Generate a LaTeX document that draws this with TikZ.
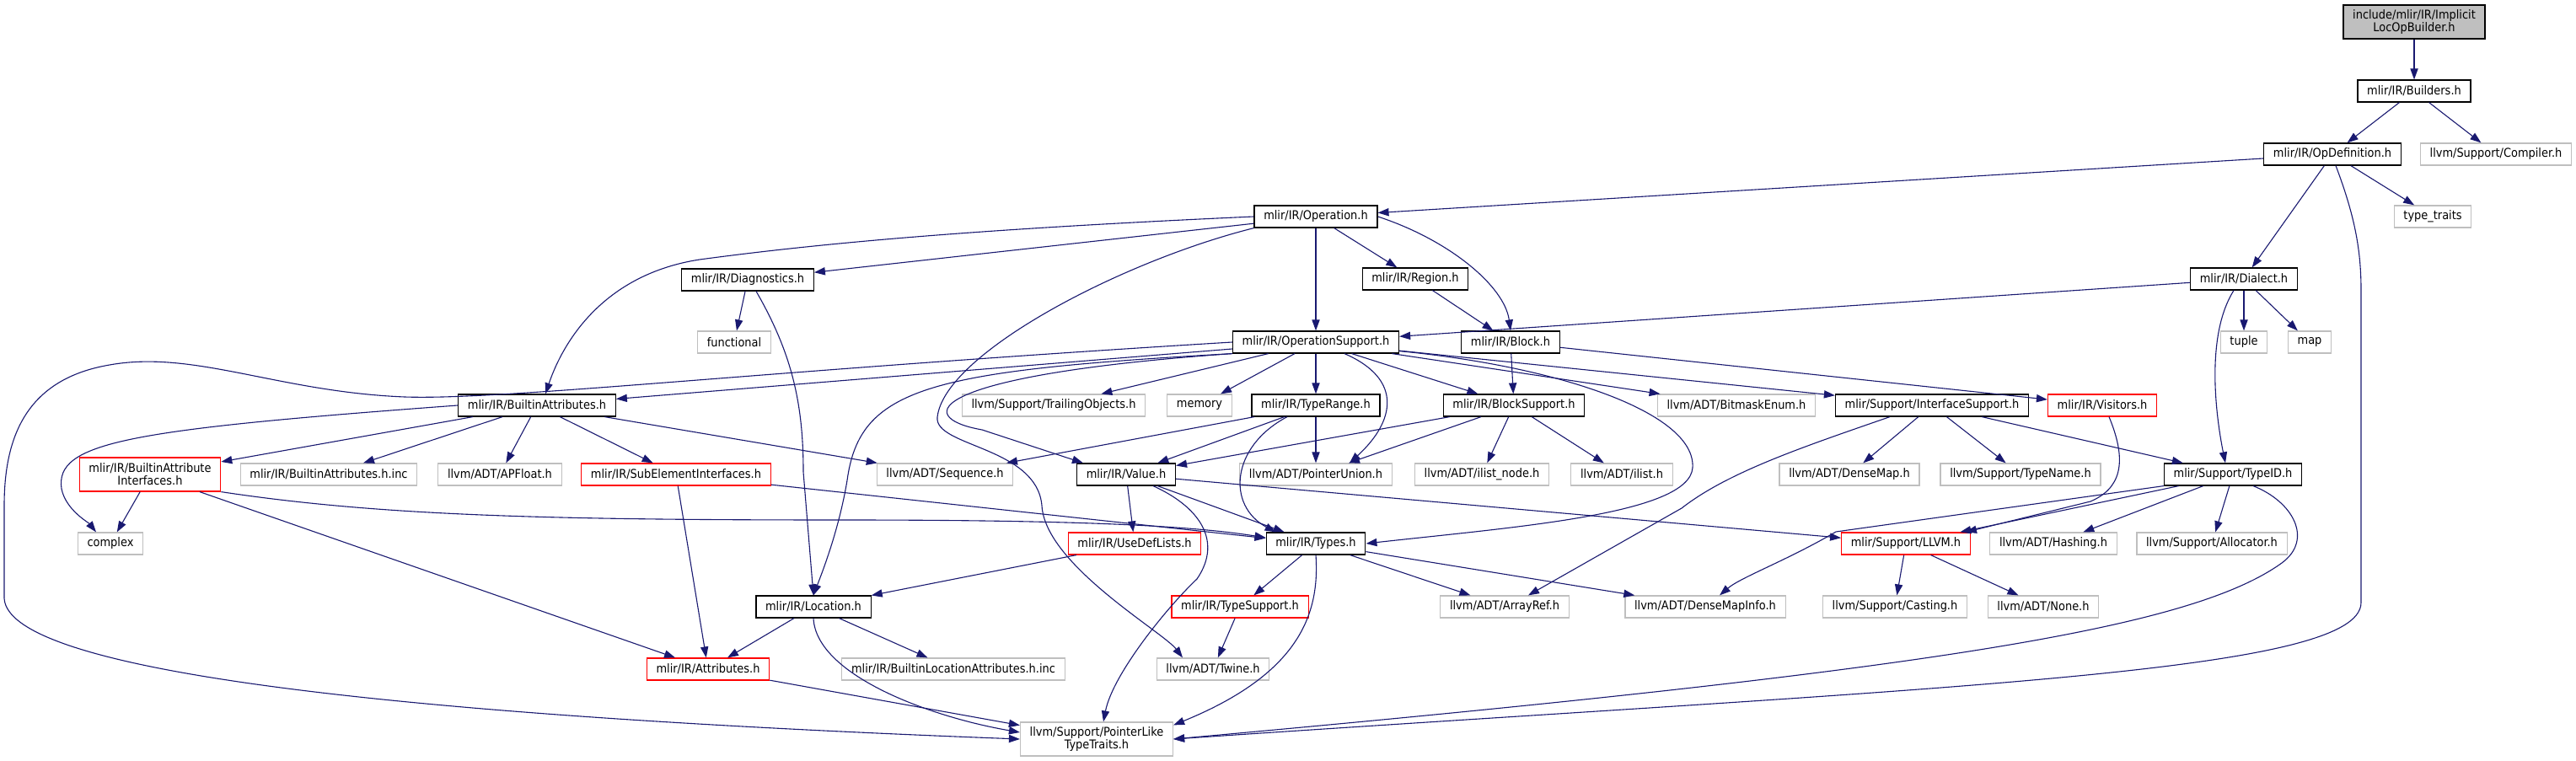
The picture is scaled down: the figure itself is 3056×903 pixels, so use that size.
\documentclass[tikz,border=0pt]{standalone}
\usepackage{fontspec}
\setmainfont{DejaVu Sans Condensed}
\usetikzlibrary{arrows.meta,calc}
\definecolor{edgeblue}{HTML}{191970}
\definecolor{extgrey}{HTML}{BFBFBF}
\begin{document}
\begin{tikzpicture}[x=.5pt,y=-.5pt,>={Triangle[length=6.5pt,width=4.6pt]},
 box/.style={draw,rectangle,font=\fontsize{7.2}{7.6}\selectfont,inner xsep=5.6pt,inner ysep=0pt,minimum height=13pt,line width=.6pt,align=center},
 doc/.style={box,draw=black},ext/.style={box,draw=extgrey},bad/.style={box,draw=red},tall/.style={minimum height=20pt},
 e/.style={->,draw=edgeblue,line width=.55pt}]
\useasboundingbox (0,0) rectangle (3056,903);
\node[doc,fill=extgrey,tall] (root) at (2864,26) {include/mlir/IR/Implicit\\LocOpBuilder.h};
\node[doc] (bld) at (2864,108) {mlir/IR/Builders.h};
\node[doc] (opd) at (2767,183) {mlir/IR/OpDefinition.h};\node[ext] (cmp) at (2961,183) {llvm/Support/Compiler.h};
\node[ext] (ttr) at (2886,257) {type\_traits};\node[doc] (op) at (1561,257) {mlir/IR/Operation.h};
\node[doc] (dgn) at (887,332) {mlir/IR/Diagnostics.h};\node[doc] (reg) at (1679,331) {mlir/IR/Region.h};
\node[doc] (dia) at (2662,331) {mlir/IR/Dialect.h};
\node[ext] (fnc) at (871,406) {functional};\node[doc] (ops) at (1561,406) {mlir/IR/OperationSupport.h};
\node[doc] (blk) at (1792,406) {mlir/IR/Block.h};\node[ext] (tup) at (2662,406) {tuple};\node[ext] (mapn) at (2740,406) {map};
\node[doc] (bia) at (637,481) {mlir/IR/BuiltinAttributes.h};\node[ext] (tro) at (1250,481) {llvm/Support/TrailingObjects.h};
\node[ext] (mem) at (1423,481) {memory};\node[doc] (trg) at (1561,481) {mlir/IR/TypeRange.h};
\node[doc] (bsp) at (1796,481) {mlir/IR/BlockSupport.h};\node[ext] (bme) at (2060,481) {llvm/ADT/BitmaskEnum.h};
\node[doc] (isp) at (2292,481) {mlir/Support/InterfaceSupport.h};\node[bad] (vis) at (2494,481) {mlir/IR/Visitors.h};
\node[bad,tall] (bai) at (178,563) {mlir/IR/BuiltinAttribute\\Interfaces.h};\node[ext] (binc) at (390,563) {mlir/IR/BuiltinAttributes.h.inc};
\node[ext] (apf) at (593,563) {llvm/ADT/APFloat.h};\node[bad] (sei) at (802,563) {mlir/IR/SubElementInterfaces.h};
\node[ext] (seq) at (1121,563) {llvm/ADT/Sequence.h};\node[doc] (val) at (1336,563) {mlir/IR/Value.h};
\node[ext] (pun) at (1561,563) {llvm/ADT/PointerUnion.h};\node[ext] (iln) at (1758,563) {llvm/ADT/ilist\_node.h};
\node[ext] (ils) at (1924,563) {llvm/ADT/ilist.h};\node[ext] (dmp) at (2194,563) {llvm/ADT/DenseMap.h};
\node[ext] (tnm) at (2397,563) {llvm/Support/TypeName.h};\node[doc] (tid) at (2649,563) {mlir/Support/TypeID.h};
\node[ext] (cpx) at (131,645) {complex};\node[bad] (udl) at (1346,645) {mlir/IR/UseDefLists.h};
\node[doc] (typ) at (1561,645) {mlir/IR/Types.h};\node[bad] (llv) at (2261,645) {mlir/Support/LLVM.h};
\node[ext] (hsh) at (2436,645) {llvm/ADT/Hashing.h};\node[ext] (alc) at (2624,645) {llvm/Support/Allocator.h};
\node[doc] (loc) at (965,720) {mlir/IR/Location.h};\node[bad] (tsp) at (1471,720) {mlir/IR/TypeSupport.h};
\node[ext] (arf) at (1785,720) {llvm/ADT/ArrayRef.h};\node[ext] (dmi) at (2023,720) {llvm/ADT/DenseMapInfo.h};
\node[ext] (cst) at (2248,720) {llvm/Support/Casting.h};\node[ext] (non) at (2424,720) {llvm/ADT/None.h};
\node[bad] (att) at (840,794) {mlir/IR/Attributes.h};\node[ext] (blinc) at (1131,794) {mlir/IR/BuiltinLocationAttributes.h.inc};
\node[ext] (twn) at (1439,794) {llvm/ADT/Twine.h};\node[ext,tall] (ptl) at (1301,877) {llvm/Support/PointerLike\\TypeTraits.h};
\draw[e](root)--(bld);\draw[e](bld)--(opd);\draw[e](bld)--(cmp);
\draw[e](opd)--(op);\draw[e](opd)--(ttr);\draw[e](opd)--(dia);
\draw[e]($(opd.south)+(4,0)$)..controls(2795,260)and(2801,300)..(2801,345)--(2801,715)..controls(2801,800)and(2300,815)..(ptl.east);
\draw[e](op)--(dgn);\draw[e](op.west)..controls(1200,270)and(1000,285)..(830,308)..controls(720,325)and(670,400)..($(bia.north)+(10,0)$);
\draw[e](op)--(ops);\draw[e](op)--(reg);\draw[e](op.east)..controls(1720,285)and(1785,340)..(blk.north);
\draw[e](op.south west)..controls(1330,310)and(1120,420)..(1112,495)..controls(1108,530)and(1230,530)..(1236,600)..controls(1240,670)and(1380,750)..($(twn.north)+(-36,0)$);
\draw[e](dgn)--(fnc);\draw[e]($(dgn.south)+(10,0)$)..controls(940,420)and(953,480)..(953,560)--(loc.north);
\draw[e](reg)--(blk);\draw[e](dia)--(ops);\draw[e](dia)--(tup);\draw[e](dia)--(mapn);
\draw[e]($(dia.south)+(-12,0)$)..controls(2615,400)and(2630,500)..($(tid.north)+(-9,0)$);
\draw[e](blk)--(bsp);\draw[e](blk)--(vis);
\draw[e](ops)--(bia);
\draw[e](ops.west)..controls(900,440)and(600,475)..(480,471)..controls(330,465)and(230,415)..(130,433)..controls(30,450)and(5,520)..(5,600)--(5,710)..controls(10,800)and(500,850)..(ptl.west);
\draw[e](ops)--(tro);\draw[e](ops)--(mem);\draw[e](ops)--(trg);
\draw[e]($(ops.south)+(34,0)$)..controls(1665,450)and(1655,500)..($(pun.north)+(40,0)$);
\draw[e](ops)--(bsp);\draw[e](ops)--(bme);\draw[e](ops)--(isp);
\draw[e](ops.south west)..controls(1100,440)and(1020,460)..(1005,570)..controls(995,630)and(975,680)..(loc.north);
\draw[e](ops.south west)..controls(1100,445)and(1080,495)..(1165,510)--($(val.north west)+(8,0)$);
\draw[e]($(ops.south east)+(0,-3)$)..controls(1850,435)and(2012,490)..(2008,555)..controls(2004,610)and(1800,625)..(typ.east);
\draw[e](trg)--(seq);\draw[e](trg)--(val);\draw[e](trg)--(pun);
\draw[e]($(trg.south)+(-34,0)$)..controls(1460,530)and(1455,600)..($(typ.north west)+(12,0)$);
\draw[e](bsp)--(val);\draw[e](bsp)--(pun);\draw[e](bsp)--(iln);\draw[e](bsp)--(ils);
\draw[e](bia)--(bai);\draw[e](bia)--(binc);\draw[e](bia)--(apf);\draw[e](bia)--(sei);\draw[e](bia)--(seq);
\draw[e](bia.west)..controls(150,510)and(65,525)..(73,580)..controls(78,605)and(105,620)..($(cpx.north)+(-17,0)$);
\draw[e](bai)--(cpx);\draw[e](bai)--(att);
\draw[e](bai.south east)..controls(450,612)and(650,617)..(1000,617)..controls(1300,617)and(1420,625)..($(typ.west)+(0,-7)$);
\draw[e](sei)--(att);\draw[e](sei)--(typ);
\draw[e](val)--(udl);\draw[e](val)--(typ);\draw[e](val)--(llv);
\draw[e]($(val.south)+(32,0)$)..controls(1420,600)and(1452,640)..(1420,687)..controls(1385,720)and(1320,800)..($(ptl.north)+(8,0)$);
\draw[e](udl)--(loc);
\draw[e](typ)--(tsp);\draw[e](typ)--(arf);\draw[e](typ)--(dmi);
\draw[e](typ.south)..controls(1566,730)and(1540,800)..($(ptl.north east)+(0,4)$);
\draw[e](tsp)--(twn);
\draw[e](loc)--(att);\draw[e](loc)--(blinc);\draw[e](loc.south)..controls(968,800)and(1100,850)..($(ptl.west)+(0,-8)$);
\draw[e](att)--(ptl);
\draw[e](isp)--(dmp);\draw[e](isp)--(tnm);\draw[e](isp)--(tid);
\draw[e]($(isp.south)+(-50,0)$)..controls(2140,530)and(2050,560)..(1995,603)--($(arf.north)+(28,0)$);
\draw[e]($(vis.south)+(8,0)$)..controls(2525,550)and(2515,580)..(2480,595)--($(llv.north east)+(-6,0)$);
\draw[e](tid)--(llv);\draw[e](tid)--(hsh);\draw[e](tid)--(alc);
\draw[e](tid.south west)--(2178,631)..controls(2120,665)and(2065,685)..($(dmi.north)+(17,0)$);
\draw[e]($(tid.south)+(24,0)$)..controls(2720,595)and(2745,640)..(2707,668)..controls(2600,745)and(2300,795)..(ptl.east);
\draw[e](llv)--(cst);\draw[e](llv)--(non);
\end{tikzpicture}
\end{document}
